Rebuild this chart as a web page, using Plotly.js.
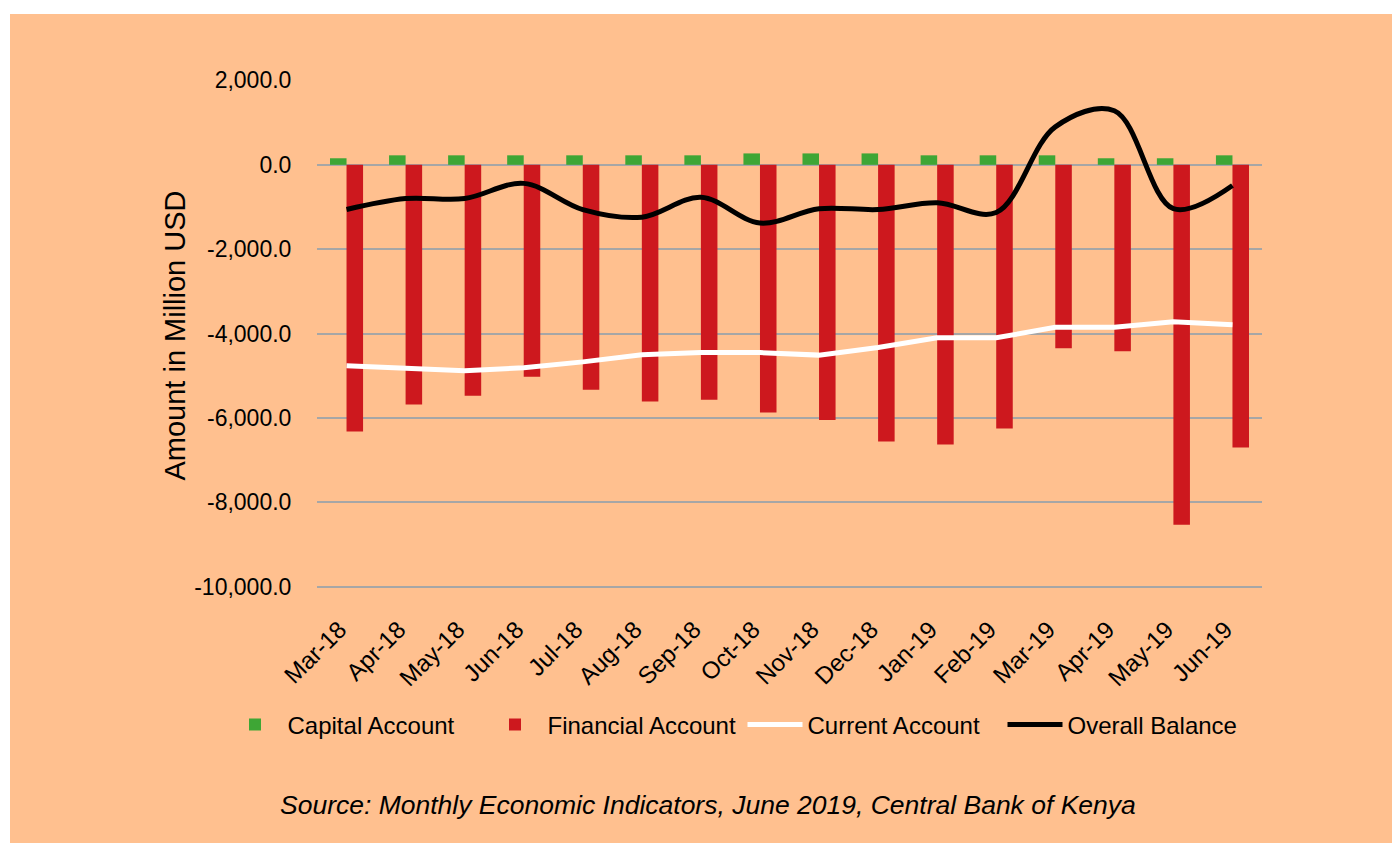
<!DOCTYPE html>
<html>
<head>
<meta charset="utf-8">
<script src="https://cdn.plot.ly/plotly-3.0.1.min.js"></script>
<style>
  html, body { margin: 0; padding: 0; background: #ffffff; }
  #chart { position: absolute; left: 10px; top: 14px; width: 1382px; height: 829px; }
</style>
</head>
<body>
<div id="chart"></div>
<script>
const months = ["Mar-18","Apr-18","May-18","Jun-18","Jul-18","Aug-18","Sep-18","Oct-18",
                "Nov-18","Dec-18","Jan-19","Feb-19","Mar-19","Apr-19","May-19","Jun-19"];
const capitalAccount   = [155, 225, 225, 225, 225, 225, 225, 270, 270, 270, 225, 225, 225, 155, 155, 225];
const financialAccount = [-6320, -5680, -5475, -5020, -5330, -5610, -5570, -5870,
                          -6050, -6560, -6630, -6250, -4350, -4420, -8530, -6700];
const currentAccount   = [-4760, -4830, -4880, -4810, -4670, -4500, -4450, -4450,
                          -4510, -4330, -4100, -4100, -3850, -3850, -3720, -3790];
const overallBalance   = [-1060, -800, -800, -440, -1060, -1240, -770, -1380,
                          -1040, -1060, -900, -1130, 900, 1280, -1040, -490];
const yTickVals  = [-10000, -8000, -6000, -4000, -2000, 0, 2000];
const yTickText  = ["-10,000.0", "-8,000.0", "-6,000.0", "-4,000.0", "-2,000.0", "0.0", "2,000.0"];
const sourceText = "Source: Monthly Economic Indicators, June 2019, Central Bank of Kenya";

const FONT = '"Liberation Sans", Arial, sans-serif';

const traces = [
  { type: 'bar', name: 'Capital Account', x: months, y: capitalAccount,
    marker: { color: 'rgb(62,166,53)' } },
  { type: 'bar', name: 'Financial Account', x: months, y: financialAccount,
    marker: { color: 'rgb(205,24,30)' } },
  { type: 'scatter', mode: 'lines', name: 'Current Account', x: months, y: currentAccount,
    line: { color: '#ffffff', width: 5 } },
  { type: 'scatter', mode: 'lines', name: 'Overall Balance', x: months, y: overallBalance,
    line: { color: '#000000', width: 5, shape: 'spline', smoothing: 1 } }
];

const layout = {
  width: 1382, height: 829,
  paper_bgcolor: 'rgb(255,192,143)',
  plot_bgcolor: 'rgb(255,192,143)',
  font: { family: FONT, color: '#000000', size: 23 },
  margin: { l: 307, r: 130, t: 66, b: 252 },
  barmode: 'group',
  bargap: 0.44,
  bargroupgap: 0,
  showlegend: true,
  legend: {
    orientation: 'h', x: -0.1, y: -0.262, xanchor: 'left', yanchor: 'middle',
    font: { family: FONT, size: 24 }, itemwidth: 55,
    entrywidth: 190, entrywidthmode: 'pixels',
    bgcolor: 'rgba(0,0,0,0)', traceorder: 'normal'
  },
  xaxis: {
    type: 'category',
    tickangle: -45,
    tickfont: { family: FONT, size: 24 },
    ticks: 'outside', ticklen: 14, tickcolor: 'rgba(0,0,0,0)',
    ticklabelshift: -7,
    showgrid: false, zeroline: false, showline: false,
    fixedrange: true
  },
  yaxis: {
    range: [-10100, 2010],
    tickvals: yTickVals, ticktext: yTickText,
    tickfont: { family: FONT, size: 23 },
    ticks: 'outside', ticklen: 20, tickcolor: 'rgba(0,0,0,0)',
    showgrid: true, gridcolor: 'rgb(166,166,166)', gridwidth: 2,
    zeroline: false, showline: false,
    title: { text: 'Amount in Million USD', font: { family: FONT, size: 29 }, standoff: 0 },
    fixedrange: true
  },
  annotations: [{
    text: sourceText, showarrow: false,
    xref: 'paper', yref: 'paper', x: 0.414, y: -0.418,
    xanchor: 'center', yanchor: 'middle',
    font: { family: FONT, size: 26.5, style: 'italic' }
  }]
};

Plotly.newPlot('chart', traces, layout, { displayModeBar: false, staticPlot: true });
</script>
</body>
</html>
